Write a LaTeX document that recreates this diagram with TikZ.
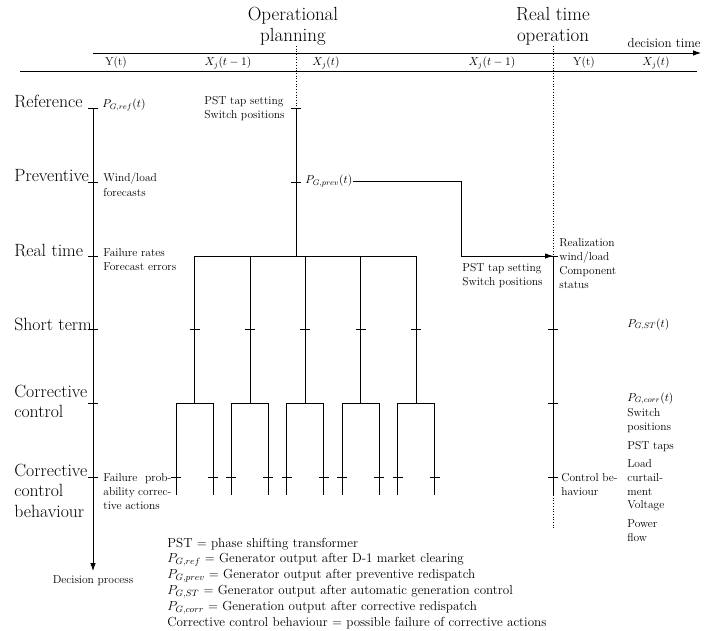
\RequirePackage{fix-cm}
\documentclass[tikz,border=0pt]{standalone}
\usetikzlibrary{arrows.meta}
% note: for multi-line nodes the base anchor lies on the LAST line
\tikzset{
  big/.style={font=\fontsize{17.7}{20.5}\selectfont, inner sep=0pt, anchor=base west, align=left},
  sm/.style={font=\fontsize{11.5}{14.3}\selectfont, inner sep=0pt, anchor=base west, align=left},
  ttl/.style={font=\fontsize{19}{21}\selectfont, inner sep=0pt, anchor=base, align=center},
  leg/.style={font=\fontsize{13.1}{15.8}\selectfont, inner sep=0pt, anchor=base west, align=left},
  hd/.style={font=\fontsize{11.5}{14}\selectfont, inner sep=0pt, anchor=base},
  arr/.style={-{Latex[length=8pt,width=5.5pt]}},
  dots/.style={dotted, line width=0.7pt},
}
\newcommand\tk[1]{\draw ([xshift=-5pt]#1) -- ([xshift=5pt]#1);}
\begin{document}
\begin{tikzpicture}[x=1pt,y=-1pt,line width=0.8pt]
\useasboundingbox (0,0) rectangle (704,631);
% ---------- header ----------
\coordinate (tlA) at (93,53); \coordinate (tlB) at (701,53);
\draw[arr] (tlA) -- (tlB);
\coordinate (blA) at (20,71); \coordinate (blB) at (697,71);
\draw (blA) -- (blB);
\node[hd, anchor=base east, font=\fontsize{13}{14}\selectfont] (dt) at (701,48) {decision time};
\node[ttl] (opp) at (293,42) {Operational\\planning};
\node[ttl] (rto) at (553,42) {Real time\\operation};
\node[hd] (h1) at (116,66) {Y(t)};
\node[hd] (h2) at (228,66) {$X_j(t-1)$};
\node[hd] (h3) at (326,66) {$X_j(t)$};
\node[hd] (h4) at (492,66) {$X_j(t-1)$};
\node[hd] (h5) at (584,66) {Y(t)};
\node[hd] (h6) at (656,66) {$X_j(t)$};
% ---------- dotted time markers ----------
\coordinate (d1top) at (296,46); \coordinate (mref) at (296,108);
\draw[dots] (d1top) -- (mref);
\coordinate (d2top) at (553,46); \coordinate (rrt) at (553,256);
\draw[dots] (d2top) -- (rrt);
\coordinate (rbot) at (553,495); \coordinate (d2bot) at (553,530);
\draw[dots] (rbot) -- (d2bot);
% ---------- left decision axis ----------
\coordinate (lref) at (93,108);
\coordinate (lprev) at (93,182);
\coordinate (lrt) at (93,256);
\coordinate (lst) at (93,329);
\coordinate (lcc) at (93,403);
\coordinate (lccb) at (93,477);
\coordinate (lend) at (93,571);
\draw[arr] (lref) -- (lend);
\tk{lref}\tk{lprev}\tk{lrt}\tk{lst}\tk{lcc}\tk{lccb}
\node[big] (tref) at (14,108) {Reference};
\node[big] (tprev) at (14,182) {Preventive};
\node[big] (trt) at (14,256) {Real time};
\node[big] (tst) at (14,330) {Short term};
\node[big] (tcc) at (14,417.5) {Corrective\\control};
\node[big] (tccb) at (14,517) {Corrective\\control\\behaviour};
\node[sm, anchor=base] (dp) at (93,583) {Decision process};
\node[sm] (pref) at (102,108) {$P_{G,ref}(t)$};
\node[sm] (wl) at (103,196.3) {Wind/load\\forecasts};
\node[sm] (fr) at (103,270.3) {Failure rates\\Forecast errors};
\node[sm] (fp) at (103,481) {\parbox[t]{68pt}{Failure\hfill prob-\\ability\hfill correc-\\tive actions}};
% ---------- planning stem ----------
\coordinate (mprev) at (296,182);
\coordinate (mrt) at (296,256);
\draw (mref) -- (mrt);
\tk{mref}\tk{mprev}
\node[sm] (pst1) at (204,119) {PST tap setting\\Switch positions};
\node[sm, anchor=west] (pgprev) at (305,181) {$P_{G,prev}(t)$};
\coordinate (pcorner) at (461,256);
\draw[arr] (pgprev.east) -| (pcorner) -- (rrt);
\node[sm] (pst2) at (462,285.3) {PST tap setting\\Switch positions};
% ---------- scenario tree ----------
\coordinate (bL) at (194.5,256); \coordinate (bR) at (416.1,256);
\draw (bL) -- (bR);
\foreach \i/\x in {1/194.5,2/249.9,3/305.3,4/360.7,5/416.1}{
  \coordinate (b\i t) at (\x,256);
  \coordinate (b\i s) at (\x,329);
  \coordinate (b\i c) at (\x,403);
  \coordinate (b\i cl) at (\x-18.5,403);
  \coordinate (b\i cr) at (\x+18.5,403);
  \coordinate (b\i kl) at (\x-18.5,477);
  \coordinate (b\i kr) at (\x+18.5,477);
  \coordinate (b\i el) at (\x-18.5,495);
  \coordinate (b\i er) at (\x+18.5,495);
  \draw (b\i t) -- (b\i c);
  \draw (b\i el) -- (b\i cl) -- (b\i cr) -- (b\i er);
  \tk{b\i s}\tk{b\i kl}\tk{b\i kr}
}
% ---------- real time axis ----------
\coordinate (rst) at (553,329);
\coordinate (rcc) at (553,403);
\coordinate (rccb) at (553,477);
\draw (rrt) -- (rbot);
\tk{rrt}\tk{rst}\tk{rcc}\tk{rccb}
\node[sm] (real) at (559,288.9) {Realization\\wind/load\\Component\\status};
\node[sm] (cb) at (561,495.3) {Control be-\\haviour};
% ---------- right column ----------
\node[sm] (pst) at (627,327) {$P_{G,ST}(t)$};
\node[sm] (pcorr) at (627,401) {$P_{G,corr}(t)$};
\node[sm] (swp) at (627,430.3) {Switch\\positions};
\node[sm] (pstt) at (627,449) {PST taps};
\node[sm] (lc) at (627,495.6) {Load\\curtail-\\ment};
\node[sm] (volt) at (627,508.5) {Voltage};
\node[sm] (pf) at (627,541.3) {Power\\flow};
% ---------- legend ----------
\node[leg] (legend) at (167,626) {PST $=$ phase shifting transformer\\
$P_{G,ref}$ $=$ Generator output after D-1 market clearing\\
$P_{G,prev}$ $=$ Generator output after preventive redispatch\\
$P_{G,ST}$ $=$ Generator output after automatic generation control\\
$P_{G,corr}$ $=$ Generation output after corrective redispatch\\
Corrective control behaviour $=$ possible failure of corrective actions};
\end{tikzpicture}
\end{document}
